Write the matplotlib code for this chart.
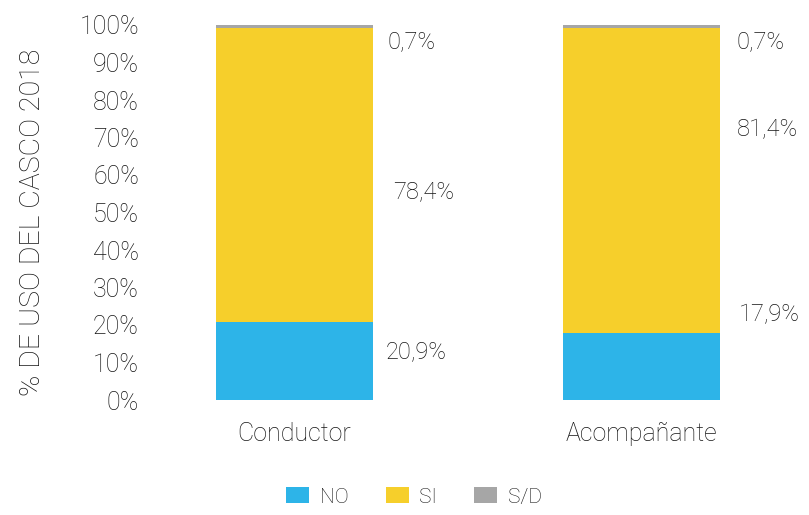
import numpy as np
import matplotlib.pyplot as plt

categorias = ['Conductor', 'Acompañante']
no_vals = [20.9, 17.9]
si_vals = [78.4, 81.4]
sd_vals = [0.7, 0.7]
series = ['NO', 'SI', 'S/D']
colores = ['#2db4e8', '#f6cf2b', '#a6a6a6']
etiquetas_y = ['0%', '10%', '20%', '30%', '40%', '50%', '60%', '70%', '80%', '90%', '100%']

# posicion de cada etiqueta de valor (como en el original)
pos_etiquetas = [[12.8, 55.5, 95.5], [22.7, 72.0, 95.5]]
pos_x = [[0.262, 0.284, 0.269], [0.28, 0.275, 0.275]]

plt.rcParams['font.family'] = ['Roboto', 'DejaVu Sans']
texto = '#151515'
peso = 'light'

fig = plt.figure(figsize=(8.09, 5.15), dpi=100)
ax = fig.add_axes([150 / 809, 1 - 400 / 515, 640 / 809, 375 / 515])

x = np.arange(len(categorias))
ancho = 0.452
fondo = np.zeros(len(categorias))
for nombre, vals, color in zip(series, [no_vals, si_vals, sd_vals], colores):
    ax.bar(x, vals, ancho, bottom=fondo, color=color, label=nombre, linewidth=0)
    fondo = fondo + np.array(vals)

for i in range(len(categorias)):
    for j, vals in enumerate([no_vals, si_vals, sd_vals]):
        txt = f'{vals[i]:.1f}%'.replace('.', ',')
        ax.text(x[i] + pos_x[i][j], pos_etiquetas[i][j], txt, ha='left', va='center',
                fontsize=17, color=texto, fontweight=peso)

ax.set_xlim(-0.416, 1.428)
ax.set_ylim(0, 100)
ax.set_yticks(np.arange(0, 101, 10))
ax.set_yticklabels(etiquetas_y, fontsize=18, color=texto, fontweight=peso)
ax.set_xticks(x)
ax.set_xticklabels(categorias, fontsize=18, color=texto, fontweight=peso)
ax.tick_params(length=0, axis='y', pad=8)
ax.tick_params(length=0, axis='x', pad=16)
for s in ax.spines.values():
    s.set_visible(False)

fig.text(33 / 809, 1 - 222 / 515, '% DE USO DEL CASCO 2018', rotation=90,
         ha='center', va='center', fontsize=20.5, color=texto, fontweight=peso)

fig.legend(loc='center', bbox_to_anchor=(414 / 809, 1 - 497 / 515), ncol=3,
           frameon=False, prop={'size': 15, 'weight': peso}, handlelength=1.1,
           handleheight=0.8, columnspacing=1.8, handletextpad=0.5, labelcolor=texto)

fig.savefig('out.png', dpi=100)
